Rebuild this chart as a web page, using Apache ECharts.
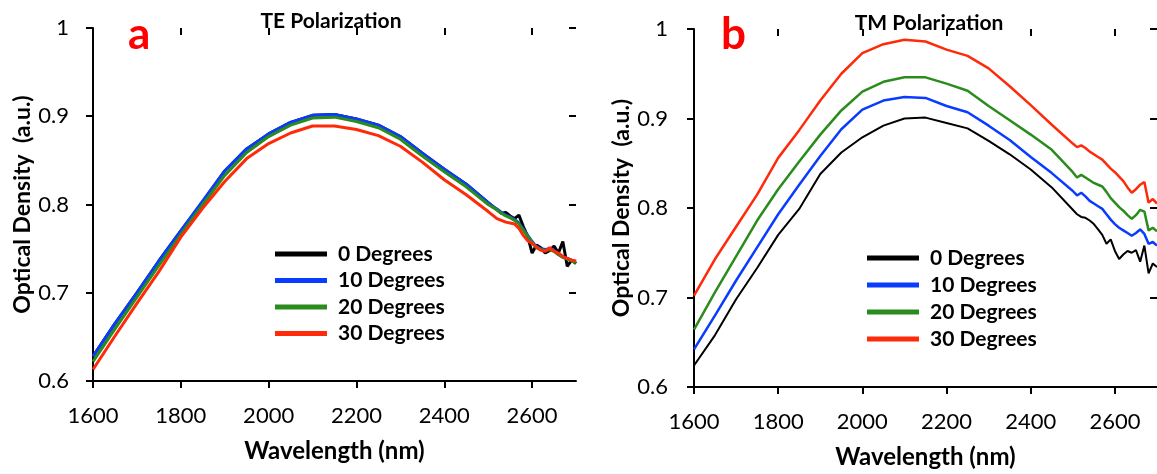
<!DOCTYPE html>
<html>
<head>
<meta charset="utf-8">
<title>TE / TM Polarization</title>
<script src="https://cdn.jsdelivr.net/npm/echarts@6/dist/echarts.min.js"></script>
<style>
    html, body { margin: 0; padding: 0; background: #fff; }
    #chart { width: 1157px; height: 474px; }
</style>
</head>
<body>
<div id="chart"></div>
<script>
// wavelength samples (nm), finer steps where the curves get noisy
const wavelengths = [1600, 1650, 1700, 1750, 1800, 1850, 1900, 1950, 2000, 2050, 2100, 2150, 2200, 2250, 2300, 2350, 2400, 2450,
    2500, 2510, 2520, 2530, 2540, 2550, 2560, 2570, 2580, 2590, 2600, 2610, 2620, 2630, 2640, 2650, 2660, 2670, 2680, 2690, 2700];

const seriesNames = ['0 Degrees', '10 Degrees', '20 Degrees', '30 Degrees'];
const seriesColors = ['#000000', '#0a3cff', '#2a8c1c', '#ff2a0a'];

const xTicks = [1600, 1800, 2000, 2200, 2400, 2600];
const yTicks = [0.6, 0.7, 0.8, 0.9, 1];

// a - TE polarization
const te0 = [0.628, 0.665, 0.700, 0.736, 0.770, 0.803, 0.838, 0.863, 0.880, 0.893, 0.901, 0.902, 0.897, 0.890, 0.877, 0.858, 0.840, 0.823,
    0.802, 0.798, 0.794, 0.790, 0.791, 0.787, 0.784, 0.788, 0.775, 0.764, 0.745, 0.754, 0.751, 0.745, 0.748, 0.753, 0.745, 0.758, 0.730, 0.737, 0.733];
const te10 = [0.628, 0.665, 0.700, 0.736, 0.770, 0.804, 0.838, 0.863, 0.880, 0.893, 0.901, 0.902, 0.897, 0.890, 0.877, 0.858, 0.840, 0.823,
    0.802, 0.798, 0.795, 0.791, 0.788, 0.786, 0.783, 0.779, 0.772, 0.765, 0.758, 0.752, 0.750, 0.749, 0.750, 0.748, 0.744, 0.741, 0.739, 0.737, 0.735];
const te20 = [0.622, 0.659, 0.695, 0.731, 0.766, 0.800, 0.833, 0.859, 0.877, 0.890, 0.898, 0.899, 0.894, 0.887, 0.874, 0.855, 0.837, 0.820,
    0.800, 0.797, 0.794, 0.790, 0.787, 0.785, 0.782, 0.778, 0.771, 0.764, 0.757, 0.751, 0.749, 0.748, 0.749, 0.747, 0.743, 0.740, 0.738, 0.736, 0.734];
const te30 = [0.613, 0.651, 0.688, 0.724, 0.763, 0.796, 0.826, 0.852, 0.869, 0.881, 0.889, 0.889, 0.885, 0.878, 0.866, 0.848, 0.828, 0.811,
    0.792, 0.788, 0.784, 0.782, 0.780, 0.779, 0.778, 0.773, 0.765, 0.759, 0.756, 0.752, 0.748, 0.747, 0.751, 0.747, 0.745, 0.741, 0.739, 0.737, 0.736];

// b - TM polarization
const tm0 = [0.624, 0.658, 0.698, 0.733, 0.770, 0.799, 0.838, 0.862, 0.879, 0.892, 0.900, 0.901, 0.895, 0.889, 0.875, 0.860, 0.843, 0.823,
    0.798, 0.793, 0.790, 0.789, 0.786, 0.782, 0.776, 0.770, 0.760, 0.765, 0.752, 0.743, 0.748, 0.752, 0.750, 0.753, 0.740, 0.758, 0.727, 0.738, 0.734];
const tm10 = [0.642, 0.680, 0.719, 0.756, 0.793, 0.826, 0.858, 0.888, 0.910, 0.920, 0.924, 0.923, 0.914, 0.907, 0.892, 0.876, 0.857, 0.839,
    0.819, 0.814, 0.817, 0.813, 0.808, 0.805, 0.802, 0.799, 0.793, 0.787, 0.782, 0.778, 0.775, 0.772, 0.769, 0.772, 0.776, 0.771, 0.760, 0.762, 0.758];
const tm20 = [0.664, 0.706, 0.746, 0.786, 0.821, 0.852, 0.882, 0.909, 0.930, 0.941, 0.946, 0.946, 0.939, 0.931, 0.914, 0.898, 0.882, 0.865,
    0.840, 0.834, 0.837, 0.834, 0.831, 0.828, 0.826, 0.824, 0.818, 0.811, 0.806, 0.801, 0.797, 0.792, 0.788, 0.792, 0.798, 0.796, 0.775, 0.778, 0.774];
const tm30 = [0.702, 0.743, 0.779, 0.815, 0.856, 0.887, 0.920, 0.950, 0.973, 0.983, 0.988, 0.986, 0.977, 0.970, 0.956, 0.936, 0.915, 0.893,
    0.872, 0.868, 0.870, 0.867, 0.863, 0.860, 0.857, 0.854, 0.849, 0.844, 0.840, 0.835, 0.830, 0.823, 0.817, 0.821, 0.826, 0.829, 0.806, 0.810, 0.805];

const FONT = 'Lato, "Open Sans", sans-serif';

const chart = echarts.init(document.getElementById('chart'));

/**
 * 一对坐标轴：主轴带刻度外伸和标签，副轴只画内伸刻度（形成十字刻度）
 */
function xAxes(gridIndex, nameGap) {
    const base = {
        type: 'value', gridIndex: gridIndex, min: 1600, max: 2700,
        splitLine: { show: false },
    };
    return [
        Object.assign({}, base, {
            name: 'Wavelength (nm)',
            nameLocation: 'middle',
            nameGap: nameGap,
            nameTextStyle: { fontFamily: FONT, fontWeight: 'bold', fontSize: 24, color: '#000' },
            axisLine: { lineStyle: { color: '#000', width: 2 } },
            axisTick: { length: 7, lineStyle: { color: '#000', width: 2 }, customValues: xTicks },
            axisLabel: {
                margin: 24, fontFamily: FONT, fontSize: 22, color: '#000', customValues: xTicks,
                formatter: v => String(v),
            },
        }),
        Object.assign({}, base, {
            axisLine: { show: false },
            axisTick: { inside: true, length: 7, lineStyle: { color: '#000', width: 2 }, customValues: xTicks },
            axisLabel: { show: false },
        }),
    ];
}

function yAxes(gridIndex, nameGap, labelMargin) {
    const base = {
        type: 'value', gridIndex: gridIndex, min: 0.6, max: 1, interval: 0.1,
        splitLine: { show: false },
    };
    return [
        Object.assign({}, base, {
            name: 'Optical Density  (a.u.)',
            nameLocation: 'middle',
            nameGap: nameGap,
            nameTextStyle: { fontFamily: FONT, fontWeight: 'bold', fontSize: 23, color: '#000' },
            axisLine: { lineStyle: { color: '#000', width: 2 } },
            axisTick: { length: 7, lineStyle: { color: '#000', width: 2 }, customValues: yTicks },
            axisLabel: {
                margin: labelMargin, fontFamily: FONT, fontSize: 22, color: '#000', customValues: yTicks,
                formatter: v => String(+v.toFixed(1)),
            },
        }),
        Object.assign({}, base, {
            axisLine: { show: false },
            axisTick: { inside: true, length: 7, lineStyle: { color: '#000', width: 2 }, customValues: yTicks },
            axisLabel: { show: false },
        }),
    ];
}

function lineSeries(values, idx, axisIndex, width) {
    return {
        name: seriesNames[idx],
        type: 'line',
        xAxisIndex: axisIndex,
        yAxisIndex: axisIndex,
        showSymbol: false,
        symbol: 'none',
        silent: true,
        animation: false,
        lineStyle: { color: seriesColors[idx], width: width },
        itemStyle: { color: seriesColors[idx] },
        data: wavelengths.map((w, i) => [w, values[i]]),
    };
}

const legendBase = {
    orient: 'vertical',
    icon: 'rect',
    itemWidth: 52,
    itemHeight: 5,
    selectedMode: false,
    data: seriesNames,
    textStyle: { fontFamily: FONT, fontWeight: 'bold', fontSize: 21, lineHeight: 22, color: '#000', padding: [0, 0, 0, 6] },
};

const option = {
    animation: false,
    backgroundColor: '#fff',
    title: [
        { text: 'TE Polarization', left: 326, top: 6, textAlign: 'center',
            textStyle: { fontFamily: FONT, fontWeight: 'bold', fontSize: 21, color: '#000' } },
        { text: 'TM Polarization', left: 924, top: 8, textAlign: 'center',
            textStyle: { fontFamily: FONT, fontWeight: 'bold', fontSize: 21, color: '#000' } },
        { text: 'a', left: 123, top: 8,
            textStyle: { fontFamily: FONT, fontWeight: 'bold', fontSize: 44, color: '#ff0000' } },
        { text: 'b', left: 716, top: 8,
            textStyle: { fontFamily: FONT, fontWeight: 'bold', fontSize: 44, color: '#ff0000' } },
    ],
    legend: [
        Object.assign({}, legendBase, { left: 270, top: 238, itemGap: 4.5 }),
        Object.assign({}, legendBase, { left: 862, top: 242, itemGap: 5 }),
    ],
    grid: [
        { left: 93, top: 28, width: 483, height: 353 },
        { left: 694, top: 29, width: 467.5, height: 360 },
    ],
    xAxis: [].concat(xAxes(0, 58), xAxes(1, 58)),
    yAxis: [].concat(yAxes(0, 59, 24), yAxes(1, 61, 26)),
    series: [
        lineSeries(te0, 0, 0, 3),
        lineSeries(te10, 1, 0, 3),
        lineSeries(te20, 2, 0, 3),
        lineSeries(te30, 3, 0, 3),
        lineSeries(tm0, 0, 2, 2),
        lineSeries(tm10, 1, 2, 2.5),
        lineSeries(tm20, 2, 2, 2.5),
        lineSeries(tm30, 3, 2, 2.5),
    ],
};

chart.setOption(option);
</script>
</body>
</html>
